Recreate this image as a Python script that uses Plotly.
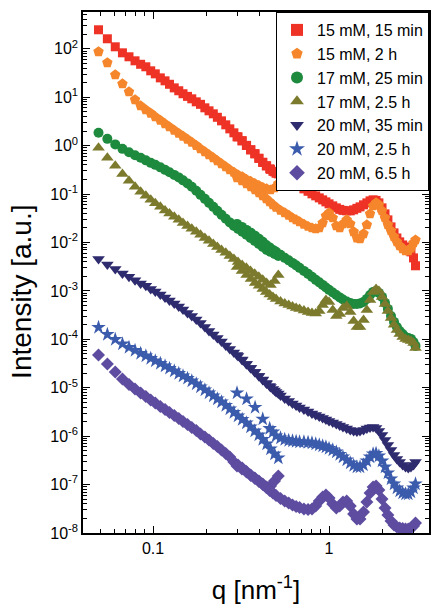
import plotly.graph_objects as go

# q grids [nm^-1]: low-q segment and high-q segment of each measurement
q_lo = [0.049, 0.055, 0.061, 0.067, 0.073, 0.079, 0.085, 0.091, 0.097, 0.103,
        0.110, 0.117, 0.124, 0.132, 0.140, 0.148, 0.157, 0.166, 0.176, 0.186,
        0.197, 0.208, 0.220, 0.232, 0.245, 0.259, 0.273, 0.288, 0.304, 0.321,
        0.339, 0.358, 0.378, 0.399, 0.420, 0.442, 0.465, 0.490, 0.515]
q_hi = [0.30, 0.32, 0.34, 0.36, 0.38, 0.40, 0.42, 0.44, 0.46, 0.48,
        0.50, 0.53, 0.56, 0.59, 0.62, 0.65, 0.68, 0.72, 0.76, 0.80,
        0.84, 0.88, 0.92, 0.96, 1.00, 1.05, 1.10, 1.15, 1.20, 1.26,
        1.32, 1.38, 1.44, 1.50, 1.57, 1.64, 1.71, 1.78, 1.85, 1.92,
        2.00, 2.08, 2.16, 2.25, 2.34, 2.43, 2.52, 2.62, 2.72, 2.82,
        2.92, 3.02, 3.10]

# 15 mM, 15 min
a_lo = [247, 161, 110, 82.6, 68.4, 56.5, 47.9, 42.5, 35.1, 30.4,
        25.1, 21.8, 18.5, 15.6, 13.6, 11.8, 10.4, 9.27, 8.04, 7.13,
        6.04, 5.24, 4.54, 3.85, 3.25, 2.69, 2.22, 1.84, 1.52, 1.26,
        1.01, 0.82, 0.68, 0.547, 0.452, 0.383, 0.324, 0.288, 0.261]
a_hi = [1.52, 1.26, 1.01, 0.82, 0.68, 0.547, 0.452, 0.383, 0.332, 0.295,
        0.268, 0.238, 0.216, 0.196, 0.174, 0.158, 0.144, 0.128, 0.114, 0.101,
        0.0918, 0.0834, 0.0759, 0.069, 0.0628, 0.057, 0.0519, 0.0483, 0.046, 0.045,
        0.045, 0.0472, 0.0507, 0.0544, 0.0599, 0.0658, 0.0724, 0.0759, 0.074, 0.0658,
        0.0519, 0.039, 0.0293, 0.021, 0.0158, 0.0124, 0.0103, 0.0089, 0.0081, 0.0074,
        0.0064, 0.0048, 0.0033]

# 15 mM, 2 h
b_lo = [86.7, 51.4, 29.0, 18.9, 12.9, 8.84, 6.64, 5.49, 4.65, 3.93,
        3.33, 2.82, 2.44, 2.07, 1.79, 1.56, 1.35, 1.17, 1.01, 0.859,
        0.745, 0.646, 0.56, 0.485, 0.421, 0.365, 0.316, 0.281, 0.249, 0.227,
        0.201, 0.183, 0.166, 0.151, 0.137, 0.128, 0.122, 0.134, 0.163]
b_hi = [0.216, 0.188, 0.163, 0.141, 0.122, 0.106, 0.0918, 0.0796, 0.069, 0.0599,
        0.0531, 0.046, 0.0409, 0.0363, 0.0322, 0.0293, 0.0267, 0.0237, 0.0215, 0.020,
        0.0191, 0.020, 0.0254, 0.0355, 0.0409, 0.0322, 0.022, 0.020, 0.0242, 0.0293,
        0.0242, 0.0166, 0.0124, 0.0119, 0.0151, 0.0231, 0.039, 0.057, 0.0658, 0.0599,
        0.045, 0.0322, 0.0231, 0.0174, 0.0131, 0.0103, 0.0085, 0.0074, 0.0067, 0.0067,
        0.0077, 0.0098, 0.0113]

# 17 mM, 25 min
c_lo = [1.84, 1.38, 1.06, 0.859, 0.728, 0.631, 0.56, 0.497, 0.441, 0.401,
        0.356, 0.316, 0.281, 0.249, 0.221, 0.192, 0.166, 0.141, 0.117, 0.0962,
        0.0796, 0.0658, 0.0544, 0.045, 0.0372, 0.0308, 0.026, 0.022, 0.0191, 0.0166,
        0.0144, 0.0124, 0.0108, 0.00935, 0.0081, 0.00703, 0.0064, 0.00581, 0.00528]
c_hi = [0.0242, 0.021, 0.0182, 0.0158, 0.0137, 0.0119, 0.0103, 0.0089, 0.00792, 0.00703,
        0.0064, 0.00555, 0.00481, 0.00427, 0.00379, 0.00337, 0.00299, 0.00259, 0.00225, 0.00195,
        0.00169, 0.0015, 0.00133, 0.00118, 0.00105, 0.00093, 0.000826, 0.000734, 0.000667, 0.000606,
        0.000565, 0.000538, 0.000538, 0.000552, 0.000593, 0.000684, 0.000826, 0.000953, 0.001, 0.00091,
        0.000752, 0.000565, 0.000425, 0.000304, 0.000229, 0.00018, 0.000149, 0.000129, 0.000112, 0.000107,
        0.000102, 0.0000883, 0.0000731]

# 17 mM, 2.5 h
d_lo = [0.902, 0.56, 0.383, 0.261, 0.188, 0.141, 0.111, 0.0918, 0.0759, 0.0643,
        0.0544, 0.046, 0.0399, 0.0338, 0.0293, 0.0254, 0.022, 0.0191, 0.0166, 0.0144,
        0.0124, 0.0108, 0.00935, 0.0081, 0.00703, 0.0061, 0.00528, 0.00458, 0.00397, 0.00344,
        0.00299, 0.00259, 0.00225, 0.00195, 0.00169, 0.00146, 0.00133, 0.00161, 0.00214]
d_hi = [0.00313, 0.00259, 0.00214, 0.00177, 0.00146, 0.00127, 0.0011, 0.000953, 0.000847, 0.000752,
        0.000684, 0.000606, 0.000552, 0.000514, 0.000479, 0.000446, 0.000425, 0.000395, 0.000368, 0.000351,
        0.000343, 0.000386, 0.000514, 0.000652, 0.000593, 0.000405, 0.000304, 0.000335, 0.000446, 0.00049,
        0.000368, 0.00024, 0.00018, 0.00018, 0.000252, 0.000405, 0.000652, 0.000953, 0.0011, 0.001,
        0.000752, 0.000538, 0.000386, 0.000277, 0.000199, 0.000156, 0.000129, 0.000112, 0.000102, 0.0000972,
        0.0000927, 0.0000843, 0.0000664]

# 20 mM, 35 min
e_lo = [0.00458, 0.00353, 0.00285, 0.0023, 0.00195, 0.00165, 0.00143, 0.00127, 0.0011, 0.000977,
        0.000847, 0.000734, 0.000637, 0.000552, 0.000479, 0.000415, 0.000351, 0.000304, 0.000258, 0.000218,
        0.00018, 0.000149, 0.000126, 0.000107, 0.0000905, 0.0000748, 0.0000634, 0.0000536, 0.0000454, 0.0000375,
        0.000031, 0.0000256, 0.0000212, 0.0000175, 0.0000145, 0.0000123, 0.0000104, 0.0000088, 0.00000762]
e_hi = [0.0000476, 0.0000384, 0.000031, 0.0000256, 0.0000212, 0.0000175, 0.0000148, 0.0000126, 0.0000109, 0.00000944,
        0.00000818, 0.00000693, 0.00000601, 0.00000533, 0.00000473, 0.00000431, 0.00000392, 0.00000356, 0.00000324, 0.00000294,
        0.00000274, 0.00000255, 0.00000238, 0.00000221, 0.00000206, 0.00000192, 0.00000179, 0.00000166, 0.00000155, 0.00000144,
        0.00000134, 0.00000128, 0.00000125, 0.00000128, 0.00000134, 0.00000144, 0.00000151, 0.00000155, 0.00000148, 0.00000128,
        0.00000106, 8.34e-7, 6.58e-7, 5.19e-7, 4.09e-7, 3.38e-7, 2.93e-7, 2.54e-7, 2.31e-7, 2.2e-7,
        2.31e-7, 2.54e-7, 2.93e-7]

# 20 mM, 2.5 h
f_lo = [0.000176, 0.000126, 0.0000995, 0.0000804, 0.0000681, 0.000059, 0.0000512, 0.0000454, 0.0000403, 0.0000358,
        0.0000318, 0.0000282, 0.0000251, 0.0000222, 0.0000197, 0.0000175, 0.0000156, 0.0000138, 0.000012, 0.0000104,
        0.00000902, 0.00000782, 0.00000678, 0.00000587, 0.00000509, 0.00000431, 0.00000365, 0.00000309, 0.00000261, 0.00000221,
        0.00000187, 0.00000155, 0.00000128, 0.00000106, 8.55e-7, 6.9e-7, 5.44e-7, 4.29e-7, 3.55e-7]
f_hi = [7.82e-6, None, 5.87e-6, None, 3.92e-6, None, 2.26e-6, None, 1.44e-6, 1.22e-6,
        1.01e-6, 9.18e-7, 8.55e-7, 8.15e-7, 7.96e-7, 7.77e-7, 7.59e-7, 7.59e-7, 7.41e-7, 7.23e-7,
        6.9e-7, 6.58e-7, 6.28e-7, 5.98e-7, 5.57e-7, 5.19e-7, 4.72e-7, 4.19e-7, 3.72e-7, 3.22e-7,
        2.79e-7, 2.48e-7, 2.31e-7, 2.31e-7, 2.54e-7, 3.07e-7, 3.72e-7, 4.29e-7, 4.39e-7, 3.9e-7,
        3.07e-7, 2.31e-7, 1.74e-7, 1.31e-7, 1.03e-7, 8.5e-8, 7.38e-8, 6.7e-8, 6.39e-8, 6.39e-8,
        7.03e-8, 8.5e-8, 1.03e-7]

# 20 mM, 6.5 h
g_lo = [4.76e-5, 3.1e-5, 2.12e-5, 1.52e-5, 1.17e-5, 9.44e-6, 7.82e-6, 6.61e-6, 5.6e-6, 4.85e-6,
        4.11e-6, 3.56e-6, 3.09e-6, 2.68e-6, 2.32e-6, 2.01e-6, 1.75e-6, 1.51e-6, 1.31e-6, 1.11e-6,
        9.62e-7, 8.34e-7, 7.06e-7, 6.12e-7, 5.19e-7, 4.39e-7, 3.72e-7, 2.93e-7, 2.54e-7, 2.2e-7,
        1.86e-7, 1.58e-7, 1.37e-7, 1.19e-7, 1.03e-7, 8.91e-8, 9.35e-8, 1.19e-7, 1.51e-7]
g_hi = [2.42e-7, 2.10e-7, 1.82e-7, 1.54e-7, 1.34e-7, 1.16e-7, 1.00e-7, 8.71e-8, 7.55e-8, 6.70e-8,
        5.96e-8, 5.16e-8, 4.58e-8, 4.17e-8, 3.79e-8, 3.53e-8, 3.37e-8, 3.13e-8, 3.06e-8, 3.13e-8,
        3.61e-8, 4.58e-8, 5.54e-8, 6.09e-8, 5.28e-8, 3.97e-8, 3.29e-8, 3.61e-8, 4.37e-8, 4.58e-8,
        3.61e-8, 2.47e-8, 1.95e-8, 1.95e-8, 2.72e-8, 4.37e-8, 6.7e-8, 8.91e-8, 9.35e-8, 7.73e-8,
        5.04e-8, 3.29e-8, 2.35e-8, 1.77e-8, 1.46e-8, 1.33e-8, 1.27e-8, 1.24e-8, 1.21e-8, 1.21e-8,
        1.27e-8, 1.4e-8, 1.61e-8]

names = ["15 mM, 15 min", "15 mM, 2 h", "17 mM, 25 min", "17 mM, 2.5 h",
         "20 mM, 35 min", "20 mM, 2.5 h", "20 mM, 6.5 h"]
lows = [a_lo, b_lo, c_lo, d_lo, e_lo, f_lo, g_lo]
highs = [a_hi, b_hi, c_hi, d_hi, e_hi, f_hi, g_hi]

# axis tick labels
y_exponents = [2, 1, 0, -1, -2, -3, -4, -5, -6, -7, -8]
y_tickvals = [10.0 ** e for e in y_exponents]
y_ticktext = ["10<sup>%d</sup>" % e for e in y_exponents]
x_tickvals = [0.1, 1]
x_ticktext = ["0.1", "1"]

colors = ["#EE3226", "#F5862B", "#1D8A3E", "#7C7A2D", "#2E2B6F", "#3B5BAC", "#5E4CA0"]
symbols = ["square", "pentagon", "circle", "triangle-up", "triangle-down", "star", "diamond"]
sizes = [9, 11, 10, 11, 11, 11, 10]

fig = go.Figure()
for i in range(len(names)):
    for j, (qq, yy) in enumerate([(q_lo, lows[i]), (q_hi, highs[i])]):
        fig.add_trace(go.Scatter(
            x=qq, y=yy, mode="markers", name=names[i], legendgroup=names[i],
            showlegend=(j == 0),
            marker=dict(symbol=symbols[i], color=colors[i], size=sizes[i], line=dict(width=0)),
        ))

# minor tick positions (2..9 within each decade)
y_minor = [m * 10.0 ** e for e in range(-8, 3) for m in range(2, 10)]
x_minor = [m * 10.0 ** e for e in range(-2, 1) for m in range(2, 10)]

font = "Liberation Sans, Arial, sans-serif"
axis_common = dict(
    type="log", showgrid=False, zeroline=False, showline=True, linecolor="black",
    linewidth=1.5, mirror="allticks", ticks="inside", ticklen=7, tickwidth=1.2,
    tickcolor="black", automargin=False, tickmode="array",
    tickfont=dict(family=font, size=16, color="black"),
)
fig.update_xaxes(**axis_common, range=[-1.398, 0.568],
                 tickvals=x_tickvals, ticktext=x_ticktext,
                 minor=dict(tickmode="array", tickvals=x_minor, ticks="inside", ticklen=4,
                            tickwidth=1, tickcolor="black", showgrid=False),
                 title=dict(text="q [nm<sup>-1</sup>]", font=dict(family=font, size=26, color="black"),
                            standoff=30))
fig.update_yaxes(**axis_common, range=[-8, 2.76],
                 tickvals=y_tickvals, ticktext=y_ticktext,
                 minor=dict(tickmode="array", tickvals=y_minor, ticks="inside", ticklen=4,
                            tickwidth=1, tickcolor="black", showgrid=False))
fig.add_annotation(text="Intensity [a.u.]", textangle=-90, showarrow=False,
                   xref="paper", yref="paper", x=-0.176, y=0.463,
                   xanchor="center", yanchor="middle",
                   font=dict(family=font, size=28, color="black"))
fig.update_layout(
    width=431, height=605, margin=dict(l=83, r=2, t=12, b=72),
    plot_bgcolor="white", paper_bgcolor="white",
    legend=dict(x=1, y=1, xanchor="right", yanchor="top", bgcolor="white",
                bordercolor="black", borderwidth=1,
                font=dict(family=font, size=16, color="black"),
                tracegroupgap=0, itemsizing="constant"),
)
fig.write_html("out.html", config={"displayModeBar": False},
               post_script="document.body.style.margin='0px';document.body.style.overflow='hidden';")
